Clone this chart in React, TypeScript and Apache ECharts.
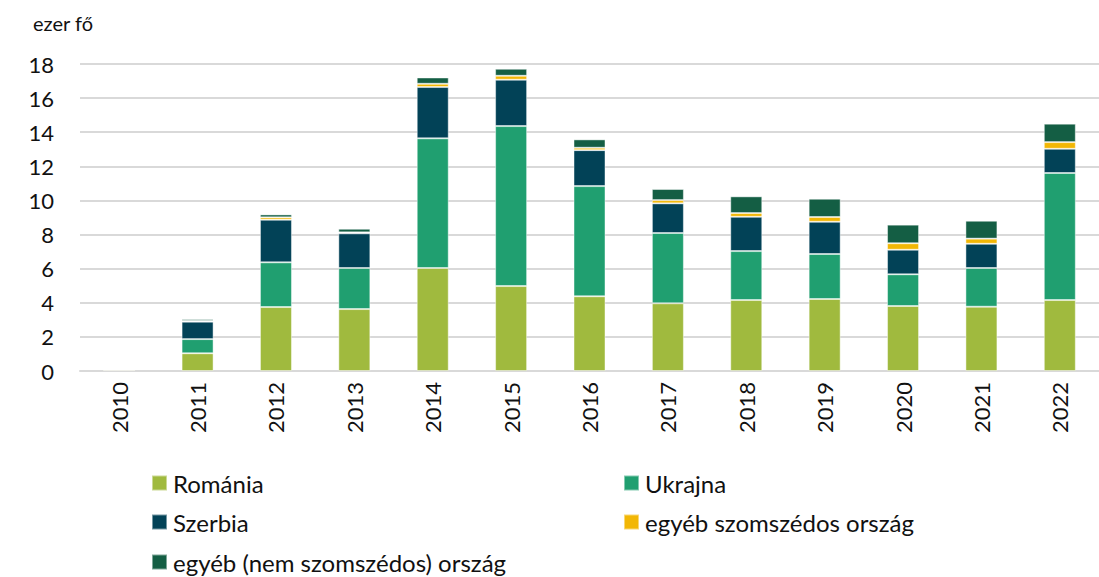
import React, { useEffect, useRef } from "react";
import * as echarts from "echarts";

const years = ["2010", "2011", "2012", "2013", "2014", "2015", "2016", "2017", "2018", "2019", "2020", "2021", "2022"];
const romania = [0.08, 1.04, 3.75, 3.63, 6.04, 4.98, 4.38, 3.97, 4.16, 4.22, 3.81, 3.77, 4.16];
const ukrajna = [0, 0.83, 2.62, 2.41, 7.6, 9.38, 6.46, 4.12, 2.87, 2.64, 1.86, 2.27, 7.45];
const szerbia = [0, 1.02, 2.5, 2.03, 3.01, 2.72, 2.11, 1.74, 2.01, 1.89, 1.44, 1.42, 1.42];
const egyebSzomszedos = [0, 0.05, 0.14, 0.06, 0.19, 0.23, 0.14, 0.19, 0.22, 0.28, 0.38, 0.3, 0.39];
const egyebNem = [0, 0.1, 0.17, 0.21, 0.37, 0.41, 0.49, 0.65, 0.98, 1.07, 1.09, 1.05, 1.08];
const yTicks = { min: 0, max: 18, interval: 2 };

const seriesDefs = [
  { name: "Románia", data: romania, color: "#A0BA3E" },
  { name: "Ukrajna", data: ukrajna, color: "#209F70" },
  { name: "Szerbia", data: szerbia, color: "#024257" },
  { name: "egyéb szomszédos ország", data: egyebSzomszedos, color: "#F2B705" },
  { name: "egyéb (nem szomszédos) ország", data: egyebNem, color: "#145E44" },
];

const FONT = "Lato, 'Liberation Sans', sans-serif";

export default function App() {
  const ref = useRef<HTMLDivElement>(null);
  useEffect(() => {
    if (!ref.current) return;
    const chart = echarts.init(ref.current, null, { renderer: "svg" });
    const legendPos = [
      { left: 151, top: 471 },
      { left: 623, top: 471 },
      { left: 151, top: 510 },
      { left: 623, top: 510 },
      { left: 151, top: 550 },
    ];
    chart.setOption({
      animation: false,
      backgroundColor: "#ffffff",
      textStyle: { fontFamily: FONT },
      grid: { left: 80, top: 64, width: 1035, bottom: 206, containLabel: false },
      legend: seriesDefs.map((s, i) => ({
        data: [s.name],
        left: legendPos[i].left,
        top: legendPos[i].top,
        icon: "rect",
        itemWidth: 15,
        itemHeight: 15,
        padding: 0,
        selectedMode: false,
        textStyle: { fontSize: 24, color: "#111111", fontFamily: FONT, padding: [0, 0, 0, 1] },
      })),
      xAxis: {
        type: "category",
        data: years,
        axisLine: { lineStyle: { color: "#d9d9d9", width: 2 } },
        axisTick: { show: false },
        axisLabel: { rotate: 90, fontSize: 22, color: "#111111", margin: 11, fontFamily: FONT },
      },
      yAxis: {
        type: "value",
        min: yTicks.min,
        max: yTicks.max,
        interval: yTicks.interval,
        axisLine: { show: false },
        axisTick: { show: false },
        axisLabel: { fontSize: 22, color: "#111111", margin: 26, fontFamily: FONT },
        splitLine: { lineStyle: { color: "#d9d9d9", width: 2 } },
      },
      graphic: [
        {
          type: "text",
          left: 33,
          top: 13,
          style: { text: "ezer fő", fontSize: 20, fill: "#111111", fontFamily: FONT },
        },
      ],
      series: seriesDefs.map((s) => ({
        name: s.name,
        type: "bar",
        stack: "total",
        barWidth: 32,
        data: s.data,
        itemStyle: { color: s.color, borderColor: "rgba(255,255,255,0.45)", borderWidth: 1 },
      })),
    });
    return () => chart.dispose();
  }, []);
  return (
    <div
      ref={ref}
      style={{ position: "fixed", left: 0, top: 0, width: 1099, height: 577, background: "#fff" }}
    />
  );
}
